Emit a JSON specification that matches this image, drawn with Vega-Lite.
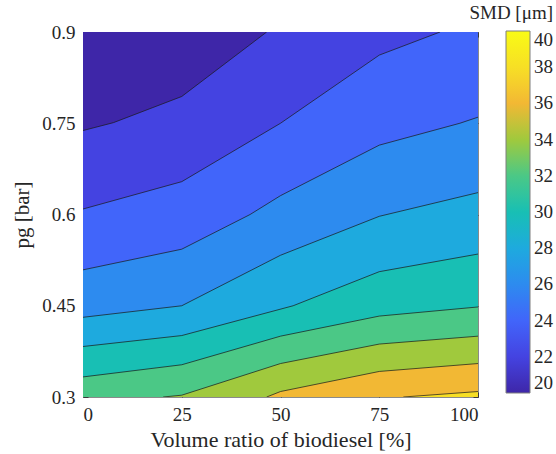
{
  "$schema": "https://vega.github.io/schema/vega-lite/v6.json",
  "width": 395,
  "height": 365,
  "autosize": {"type": "none"},
  "padding": {"left": 83, "top": 32, "right": 78, "bottom": 57},
  "config": {
    "font": "Liberation Serif",
    "view": {"stroke": "#8a8a8a", "strokeWidth": 1},
    "axis": {"labelColor": "#262626", "titleColor": "#262626", "tickColor": "#262626", "labelFont": "Liberation Serif", "titleFont": "Liberation Serif", "labelFontWeight": "normal", "titleFontWeight": "normal", "grid": false, "domain": false},
    "legend": {"labelColor": "#262626", "titleColor": "#262626", "labelFont": "Liberation Serif", "titleFont": "Liberation Serif", "labelFontWeight": "normal", "titleFontWeight": "normal"}
  },
  "data": {
    "values": [
      {"level": 20, "x": 0, "y": 0.9, "c": 0},
      {"level": 20, "x": 100, "y": 0.9, "c": 0},
      {"level": 22, "x": 0, "y": 0.738, "c": 1},
      {"level": 22, "x": 7.7, "y": 0.751, "c": 1},
      {"level": 22, "x": 25, "y": 0.794, "c": 1},
      {"level": 22, "x": 46.5, "y": 0.9, "c": 1},
      {"level": 22, "x": 100, "y": 0.9, "c": 0},
      {"level": 24, "x": 0, "y": 0.609, "c": 1},
      {"level": 24, "x": 25, "y": 0.654, "c": 1},
      {"level": 24, "x": 50, "y": 0.75, "c": 1},
      {"level": 24, "x": 75, "y": 0.862, "c": 1},
      {"level": 24, "x": 90.4, "y": 0.9, "c": 1},
      {"level": 24, "x": 100, "y": 0.9, "c": 0},
      {"level": 26, "x": 0, "y": 0.509, "c": 1},
      {"level": 26, "x": 25, "y": 0.543, "c": 1},
      {"level": 26, "x": 42.3, "y": 0.6, "c": 1},
      {"level": 26, "x": 50, "y": 0.631, "c": 1},
      {"level": 26, "x": 75, "y": 0.714, "c": 1},
      {"level": 26, "x": 95.4, "y": 0.75, "c": 1},
      {"level": 26, "x": 100, "y": 0.76, "c": 1},
      {"level": 28, "x": 0, "y": 0.431, "c": 1},
      {"level": 28, "x": 25, "y": 0.45, "c": 1},
      {"level": 28, "x": 50, "y": 0.533, "c": 1},
      {"level": 28, "x": 75, "y": 0.597, "c": 1},
      {"level": 28, "x": 100, "y": 0.636, "c": 1},
      {"level": 30, "x": 0, "y": 0.383, "c": 1},
      {"level": 30, "x": 25, "y": 0.401, "c": 1},
      {"level": 30, "x": 53.2, "y": 0.45, "c": 1},
      {"level": 30, "x": 75, "y": 0.506, "c": 1},
      {"level": 30, "x": 100, "y": 0.535, "c": 1},
      {"level": 32, "x": 0, "y": 0.333, "c": 1},
      {"level": 32, "x": 25, "y": 0.353, "c": 1},
      {"level": 32, "x": 50, "y": 0.4, "c": 1},
      {"level": 32, "x": 75, "y": 0.433, "c": 1},
      {"level": 32, "x": 100, "y": 0.448, "c": 1},
      {"level": 34, "x": 20.3, "y": 0.3, "c": 1},
      {"level": 34, "x": 25, "y": 0.303, "c": 1},
      {"level": 34, "x": 50, "y": 0.355, "c": 1},
      {"level": 34, "x": 75, "y": 0.387, "c": 1},
      {"level": 34, "x": 100, "y": 0.4, "c": 1},
      {"level": 36, "x": 46.5, "y": 0.3, "c": 1},
      {"level": 36, "x": 50, "y": 0.309, "c": 1},
      {"level": 36, "x": 75, "y": 0.342, "c": 1},
      {"level": 36, "x": 100, "y": 0.355, "c": 1},
      {"level": 38, "x": 81.1, "y": 0.3, "c": 1},
      {"level": 38, "x": 100, "y": 0.309, "c": 1}
    ]
  },
  "encoding": {
    "x": {"field": "x", "type": "quantitative", "scale": {"domain": [0, 100], "nice": false, "zero": false}, "axis": null},
    "y": {"field": "y", "type": "quantitative", "stack": null, "scale": {"domain": [0.3, 0.9], "nice": false, "zero": false}, "axis": null},
    "color": {"field": "level", "type": "quantitative",
      "scale": {"domain": [20, 40], "range": ["#3e26a8", "#4443e1", "#4165fa", "#2d8bef", "#1eaade", "#18bfb4", "#4bc886", "#a0c93d", "#f2b834", "#f7df25", "#f9fb15"], "interpolate": "rgb"},
      "legend": {"orient": "none", "legendX": 386, "legendY": -28, "padding": 0, "title": "SMD [μm]", "titleFontSize": 19, "titleFontStyle": "normal", "titleFontWeight": "normal", "titleAnchor": "end", "titlePadding": 8, "labelFontSize": 19, "labelFontWeight": "normal", "labelOffset": 4, "values": [20, 22, 24, 26, 28, 30, 32, 34, 36, 38, 40], "format": "d", "gradientLength": 362, "gradientThickness": 24, "gradientStrokeColor": "#7f7f7f", "gradientStrokeWidth": 1, "direction": "vertical"}}
  },
  "layer": [
    {"transform": [{"filter": "datum.level == 20"}], "mark": {"type": "area", "clip": true},
      "encoding": {
        "y2": {"datum": 0.3},
        "x": {"field": "x", "type": "quantitative", "axis": {"orient": "bottom", "values": [0, 25, 50, 75, 100], "title": "Volume ratio of biodiesel [%]", "labelFontSize": 19, "labelFontWeight": "normal", "titleFontSize": 22, "titleFontWeight": "normal", "tickSize": -5, "tickWidth": 0.8, "labelPadding": 13, "titlePadding": 5}},
        "y": {"field": "y", "type": "quantitative", "stack": null, "axis": {"orient": "left", "values": [0.3, 0.45, 0.6, 0.75, 0.9], "format": ".2~f", "title": "pg [bar]", "labelFontSize": 19, "labelFontWeight": "normal", "titleFontSize": 21, "titleFontWeight": "normal", "tickSize": -5, "tickWidth": 0.8, "labelPadding": 13, "titlePadding": 9}}
      }},
    {"transform": [{"filter": "datum.level == 22"}], "mark": {"type": "area", "clip": true}, "encoding": {"y2": {"datum": 0.3}}},
    {"transform": [{"filter": "datum.level == 24"}], "mark": {"type": "area", "clip": true}, "encoding": {"y2": {"datum": 0.3}}},
    {"transform": [{"filter": "datum.level == 26"}], "mark": {"type": "area", "clip": true}, "encoding": {"y2": {"datum": 0.3}}},
    {"transform": [{"filter": "datum.level == 28"}], "mark": {"type": "area", "clip": true}, "encoding": {"y2": {"datum": 0.3}}},
    {"transform": [{"filter": "datum.level == 30"}], "mark": {"type": "area", "clip": true}, "encoding": {"y2": {"datum": 0.3}}},
    {"transform": [{"filter": "datum.level == 32"}], "mark": {"type": "area", "clip": true}, "encoding": {"y2": {"datum": 0.3}}},
    {"transform": [{"filter": "datum.level == 34"}], "mark": {"type": "area", "clip": true}, "encoding": {"y2": {"datum": 0.3}}},
    {"transform": [{"filter": "datum.level == 36"}], "mark": {"type": "area", "clip": true}, "encoding": {"y2": {"datum": 0.3}}},
    {"transform": [{"filter": "datum.level == 38"}], "mark": {"type": "area", "clip": true}, "encoding": {"y2": {"datum": 0.3}}},
    {"transform": [{"filter": "datum.c == 1"}], "mark": {"type": "line", "clip": true, "strokeWidth": 0.8, "opacity": 0.9},
      "encoding": {
        "color": {"value": "#1a1a1a"},
        "detail": {"field": "level", "type": "quantitative"},
        "x": {"field": "x", "type": "quantitative", "axis": {"orient": "top", "values": [0, 25, 50, 75, 100], "labels": false, "title": null, "tickSize": -5, "tickWidth": 0.8}},
        "y": {"field": "y", "type": "quantitative", "stack": null, "axis": {"orient": "right", "values": [0.3, 0.45, 0.6, 0.75, 0.9], "labels": false, "title": null, "tickSize": -5, "tickWidth": 0.8}}
      }}
  ]
}
